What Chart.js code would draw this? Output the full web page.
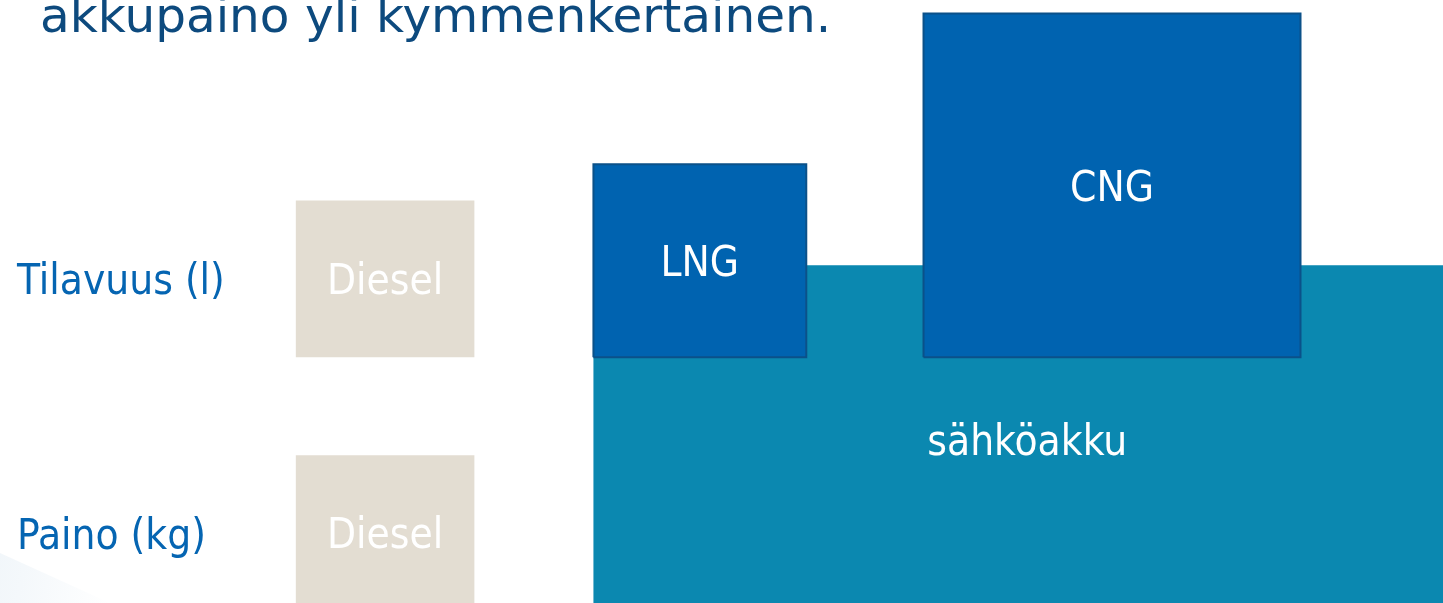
<!DOCTYPE html>
<html lang="fi">
<head>
<meta charset="utf-8">
<title>Tilavuus ja paino</title>
<script src="https://cdn.jsdelivr.net/npm/chart.js@4.4.1/dist/chart.umd.min.js"></script>
<style>
    html, body { margin: 0; padding: 0; background: #fff; overflow: hidden; }
    #wrap { position: relative; width: 1443px; height: 603px; }
    #swoosh {
        position: absolute; left: 0; top: 0; width: 1443px; height: 603px;
        background: linear-gradient(100deg, #e9f1f7 0%, #f4f8fb 8%, #ffffff 14%);
        clip-path: polygon(0 553px, 110px 603px, 0 603px);
    }
    h1 {
        position: absolute; left: 40px; top: -9px; margin: 0;
        font: normal 48.5px 'DejaVu Sans', sans-serif;
        line-height: 1; color: #0d4a7e; white-space: nowrap;
    }
    #chartBox { position: absolute; left: 0; top: 0; width: 1443px; height: 603px; }
</style>
</head>
<body>
<div id="wrap">
    <div id="swoosh"></div>
    <h1>akkupaino yli kymmenkertainen.</h1>
    <div id="chartBox"><canvas id="sizeChart"></canvas></div>
</div>
<script>
// boxes, in diagram units (x 0..8, y 0..4); the first one is drawn on top
const boxLabels = ['CNG', 'LNG', 'Diesel', 'Diesel', 'sähköakku'];
const xStart = [5.12, 3.29, 1.64, 1.64, 3.29];
const xEnd   = [7.21, 4.47, 2.63, 2.63, 8.10];
const yLow   = [1.63, 1.63, 1.63, -0.05, -0.08];
const yHigh  = [3.91, 2.91, 2.67, 0.98, 2.24];

// row labels on the left
const rowLabels = ['Tilavuus (l)', 'Paino (kg)'];
const rowValues = [2.12, 0.43];

const fillColors   = ['#0063b0', '#0063b0', '#e3ddd2', '#e3ddd2', '#0b88b0'];
const borderColors = ['#0b5189', '#0b5189', '#e3ddd2', '#e3ddd2', '#0b88b0'];
const borderWidths = [2, 2, 0, 0, 0];
const textColors   = ['#ffffff', '#ffffff', '#ffffff', '#ffffff', '#ffffff'];

const FONT = "'DejaVu Sans Condensed', 'DejaVu Sans', sans-serif";
const LABEL_SIZE = 42;

function rectPoints(i) {
    return [
        { x: xStart[i], y: yLow[i] },
        { x: xStart[i], y: yHigh[i] },
        { x: xEnd[i], y: yHigh[i] },
        { x: xEnd[i], y: yLow[i] },
        { x: xStart[i], y: yLow[i] }
    ];
}

// writes each box name in the middle of its box
const boxText = {
    id: 'boxText',
    afterDatasetsDraw(chart) {
        const { ctx, scales: { x, y } } = chart;
        ctx.save();
        ctx.font = LABEL_SIZE + 'px ' + FONT;
        ctx.textAlign = 'center';
        ctx.textBaseline = 'alphabetic';
        boxLabels.forEach((t, i) => {
            const cx = (x.getPixelForValue(xStart[i]) + x.getPixelForValue(xEnd[i])) / 2;
            const cy = (y.getPixelForValue(yHigh[i]) + y.getPixelForValue(yLow[i])) / 2;
            ctx.fillStyle = textColors[i];
            // caps sit centred on the box middle
            ctx.fillText(t, cx, cy + LABEL_SIZE * 0.36);
        });
        ctx.restore();
    }
};

const ctx = document.getElementById('sizeChart').getContext('2d');
new Chart(ctx, {
    type: 'scatter',
    data: {
        datasets: boxLabels.map((name, i) => ({
            label: name,
            data: rectPoints(i),
            showLine: true,
            fill: 'shape',
            backgroundColor: fillColors[i],
            borderColor: borderColors[i],
            borderWidth: borderWidths[i],
            borderJoinStyle: 'miter',
            pointRadius: 0,
            tension: 0
        }))
    },
    options: {
        responsive: true,
        maintainAspectRatio: false,
        animation: false,
        events: [],
        layout: { padding: 0 },
        plugins: {
            legend: { display: false },
            tooltip: { enabled: false }
        },
        scales: {
            x: { type: 'linear', min: 0, max: 8, display: false },
            y: {
                type: 'linear',
                min: 0,
                max: 4,
                grid: { display: false, drawTicks: false },
                border: { display: false },
                afterBuildTicks: (scale) => {
                    scale.ticks = rowValues.map(v => ({ value: v }));
                },
                afterFit: (scale) => {
                    scale.width = 0;
                    scale.paddingTop = 0;
                    scale.paddingBottom = 0;
                },
                ticks: {
                    mirror: true,
                    padding: 17,
                    autoSkip: false,
                    color: '#0565b2',
                    font: { family: FONT, size: LABEL_SIZE },
                    callback: (v) => rowLabels[rowValues.indexOf(v)]
                }
            }
        }
    },
    plugins: [boxText]
});
</script>
</body>
</html>
